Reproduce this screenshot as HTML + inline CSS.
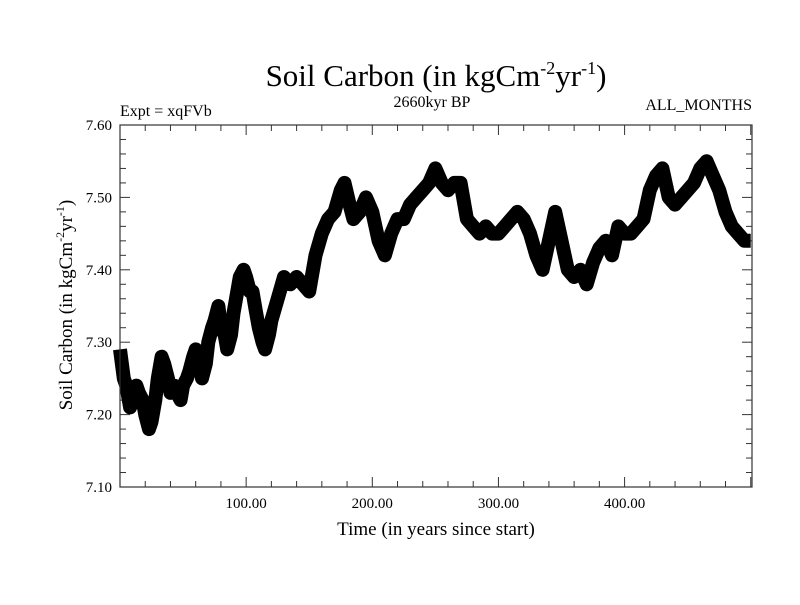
<!DOCTYPE html>
<html><head><meta charset="utf-8"><style>
body{margin:0;background:#fff;}
svg text{font-family:"Liberation Serif",serif;fill:#000;}
</style></head><body>
<svg width="800" height="600" xmlns="http://www.w3.org/2000/svg">
<rect width="800" height="600" fill="#fff"/>
<text x="436" y="86" font-size="31" text-anchor="middle">Soil Carbon (in kgCm<tspan dy="-12" font-size="18">-2</tspan><tspan dy="12">yr</tspan><tspan dy="-12" font-size="18">-1</tspan><tspan dy="12">)</tspan></text>
<text x="432" y="107" font-size="16" text-anchor="middle">2660kyr BP</text>
<text x="120" y="116" font-size="16">Expt = xqFVb</text>
<text x="752" y="110" font-size="16" text-anchor="end">ALL_MONTHS</text>
<g id="axes"></g>
<g id="series"></g>
<rect x="120" y="125" width="632" height="362" fill="none" stroke="#333" stroke-width="1.2"/>
<text x="436" y="535" font-size="19" text-anchor="middle">Time (in years since start)</text>
<text transform="translate(72,305) rotate(-90)" font-size="19" text-anchor="middle">Soil Carbon (in kgCm<tspan dy="-8" font-size="12">-2</tspan><tspan dy="8">yr</tspan><tspan dy="-8" font-size="12">-1</tspan><tspan dy="8">)</tspan></text>
</svg>
<script>
const years=[0,3,5,8,10,13,15,18,20,23,25,28,30,33,35,38,40,43,45,48,50,53,55,58,60,63,65,68,70,73,75,78,80,83,85,88,90,93,95,98,100,103,105,108,110,113,115,118,120,125,130,135,140,145,150,155,160,165,170,175,178,182,185,190,195,200,205,210,215,220,225,230,235,240,245,250,255,260,265,270,275,280,285,290,295,300,305,310,315,320,325,330,335,340,345,350,355,360,365,370,375,380,385,390,395,400,405,410,415,420,425,430,435,440,445,450,455,460,465,470,475,480,485,490,495,500];
const soilCarbon=[7.29,7.25,7.24,7.21,7.22,7.24,7.23,7.22,7.20,7.18,7.19,7.22,7.25,7.28,7.27,7.25,7.23,7.24,7.23,7.22,7.24,7.25,7.26,7.28,7.29,7.28,7.25,7.27,7.30,7.32,7.33,7.35,7.32,7.31,7.29,7.31,7.34,7.37,7.39,7.40,7.39,7.37,7.37,7.34,7.32,7.30,7.29,7.31,7.33,7.36,7.39,7.38,7.39,7.38,7.37,7.42,7.45,7.47,7.48,7.51,7.52,7.49,7.47,7.48,7.50,7.48,7.44,7.42,7.45,7.47,7.47,7.49,7.50,7.51,7.52,7.54,7.52,7.51,7.52,7.52,7.47,7.46,7.45,7.46,7.45,7.45,7.46,7.47,7.48,7.47,7.45,7.42,7.40,7.44,7.48,7.44,7.40,7.39,7.40,7.38,7.41,7.43,7.44,7.42,7.46,7.45,7.45,7.46,7.47,7.51,7.53,7.54,7.50,7.49,7.50,7.51,7.52,7.54,7.55,7.53,7.51,7.48,7.46,7.45,7.44,7.44];
const yTicks=[7.10,7.20,7.30,7.40,7.50,7.60];
const xTicks=[100,200,300,400];
const X0=120,X1=752,Y0=487,Y1=125;
const xs=v=>X0+(v-0)/(501-0)*(X1-X0);
const ys=v=>Y0-(v-7.10)/(0.50)*(Y0-Y1);
const NS="http://www.w3.org/2000/svg";
const axes=document.getElementById('axes'),series=document.getElementById('series');
function mk(t,a,p){const e=document.createElementNS(NS,t);for(const k in a)e.setAttribute(k,a[k]);p.appendChild(e);return e;}
for(let v=7.10;v<=7.6001;v+=0.02){const y=ys(v);const major=Math.abs((v*10)-Math.round(v*10))<1e-6;const L=major?10:6;
const t1=mk('line',{x1:X0,x2:X0+L,y1:y,y2:y,stroke:'#333'},axes);


const t2=mk('line',{x1:X1-L,x2:X1,y1:y,y2:y,stroke:'#333'},axes);

}
yTicks.forEach(v=>{const t=mk('text',{x:112,y:ys(v)+5,'font-size':15,'text-anchor':'end'},axes);t.textContent=v.toFixed(2);

});
for(let v=20;v<=500;v+=20){const x=xs(v);const L=(v%100===0)?10:6;
const t1=mk('line',{x1:x,x2:x,y1:Y0,y2:Y0-L,stroke:'#333'},axes);


const t2=mk('line',{x1:x,x2:x,y1:Y1,y2:Y1+L,stroke:'#333'},axes);

}
xTicks.forEach(v=>{const t=mk('text',{x:xs(v),y:508,'font-size':15,'text-anchor':'middle'},axes);t.textContent=v.toFixed(2);

});
const d=years.map((v,i)=>(i?'L':'M')+xs(v).toFixed(1)+','+ys(soilCarbon[i]).toFixed(1)).join(' ');
const p=mk('path',{d:d,fill:'none',stroke:'#000','stroke-width':14,'stroke-linejoin':'round'},series);


</script>
</body></html>
